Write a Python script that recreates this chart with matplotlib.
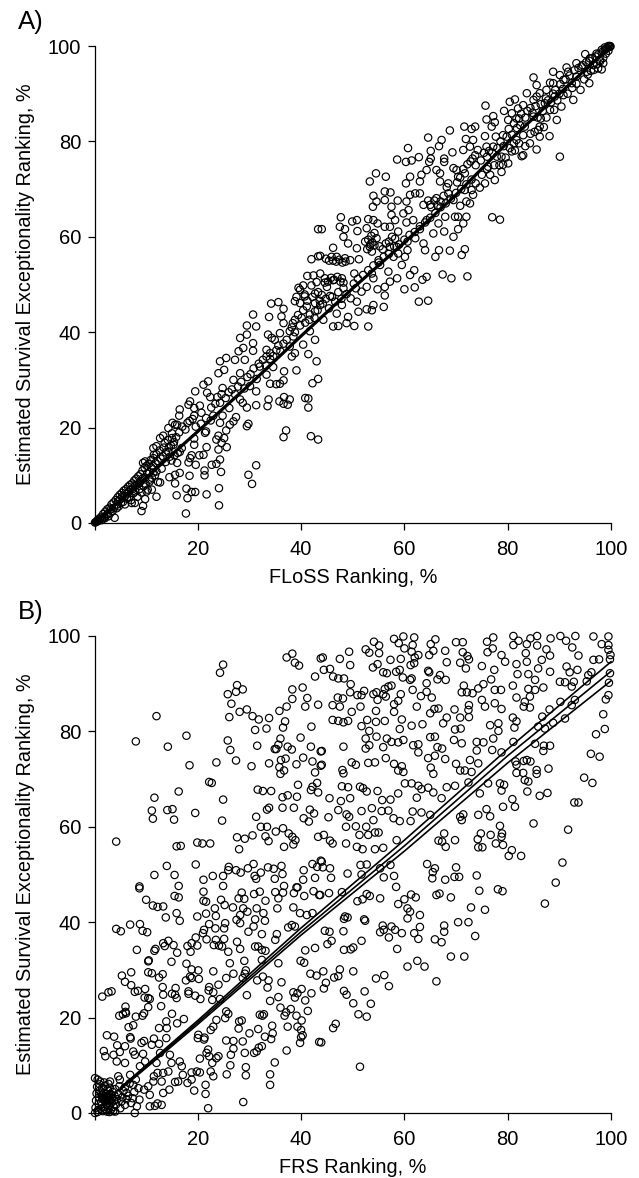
import numpy as np
import matplotlib
matplotlib.use("Agg")
import matplotlib.pyplot as plt

plt.rcParams['font.family'] = ['Liberation Sans', 'DejaVu Sans']

TICKS = [0, 20, 40, 60, 80, 100]
TICK_LABELS_Y = ['0', '20', '40', '60', '80', '100']
TICK_LABELS_X = ['', '20', '40', '60', '80', '100']
YLABEL = 'Estimated Survival Exceptionality Ranking, %'

# Panel A: ranks, (FLoSS, survival)
floss_low = [
(17.7,2),(24.1,3.7),(18,5.2),(15.9,5.8),(18.8,6.5),(19.5,6.5),(21.7,6),(17.8,7.2),(24.1,7.3),(30.5,8.2),
(29.8,10.1),(31.3,12.1),(24.5,10.7),(21.3,10),(21.3,11),(18.4,9.9),(15.6,8.3),(14.5,9.6),(15.6,10.1),(16.5,10.5),
(22.7,12.2),(23.6,12.4),(24.3,13.3),(19.6,12.2),(18.2,12.7),(18.5,13.6),(20.3,14.2),(21.1,14.3),(18.8,14.2),(21.7,15.9),
(24,15.4),(25.6,15.9),(24.6,16.8),(23.6,17.5),(25.1,17.8),(24,18.3),(21.4,18.9),(21.6,19.2),(19.3,17.7),(19.3,16.4),
(16.9,15.7),(16.1,14.7),(14.9,13.1),(16,12.6),(36.6,18),(37.1,19.4),(41.9,18.2),(43.3,17.5),(29.5,20.3),(29.8,20.8),
(27.4,22.2),(26.9,21.3),(26.2,20.6),(24.3,21),(25.5,19.4),(23,22.5),(24.8,22.5),(26.1,24.1),(22.5,21.5),(20.7,23.1),
(19.3,22.5),(19.3,24.1),(20.4,24.6),(18.2,24.8),(18.5,25.5),(16.5,23.8),(16.4,22.5),(15.1,21),(15.6,20.6),(14.3,19.9),
(12.7,17.8),(13.3,18.3),(12,16.1),(13.6,16.8),(15,17.8),(15.3,16.4),(14.3,15),(11.4,15.7),(11.5,14.3),(9.8,12.9),
(9.4,12.6),(12,10.8),(11.4,10.6),(10.7,8.7),(12,5.5),(9.8,5),(9.4,3.6),(9.1,2.5),(12.7,8.5),(11.1,7),
(10.1,6.6),(7.8,4.2),(7.2,4.2),(19.5,27.6),(21.1,29),(22,29.7),(21.8,27.3),(22.4,26.4),(24.3,25.2),(24,31.4),
(24.3,33.9),(25.1,32.1),(25.5,34.6),(24.8,28.3),(26.9,30),(28.2,31.4),(27.2,34.2),(27.9,36),(28.2,38.8),(29.1,34.2),
(28.8,36.7),(30.7,37.7),(30.7,36.1),(29.5,39.5),(29.5,41.4),(31.3,41.2),(30.7,43.7),(28.7,25.2),(29.5,24.2),(31.3,24.7),
(28.2,25.9),(31.3,27.6),(30.1,28.7),(31.4,30.2),(32,32.8),(33.7,25.9),(33.5,24.5),(35.8,25.5),(36.6,25),(37.4,24.8),
(36.7,26.4),(37.8,25.9),(34,29.2),(35.2,29.1),(35.9,29.2),(36.6,29.9),(36.7,31.8),(33.3,31.1),(34.6,32.7),(33.3,34.9),
(34,35.6),(33.3,36.3),(33.6,39.5),(34.3,38.8),(34.9,38.4),(33.8,43.2),(34.2,46),(35.6,46.3),(36.6,44.9),(36.2,43.3),
(36.6,41.9),(37.8,40.2),(35.9,39.8),(38.8,42.6),(38.5,39.1),(38.2,34.9),(39.1,32),(38.8,35.6),(40.4,37.4),(41.4,35.4),
(42.7,38.4),(41.7,40.2),(43,33.9),(42.2,29.3),(43.3,30.2),(40.8,26.2),(41.4,26.1),(41.4,24.2),(38.8,46.5),(39.8,46.1),
(41.1,45.4),(42.7,46.1),(39.8,48.9),(40.7,47.9),(42.7,44.4),(40.1,43),(41.7,43.7),(38.4,41.9),(43.3,61.6),(42,55.3),
(43.3,55.9),(41.2,51.8),(42.4,51.9),(39.5,49.3),(40.4,49.8),(39.1,47.4),(42,49.8),(43,50.5),(42.7,48.1),(40.7,47.5),
(43.3,48.4),
]

floss_high = [
(75.7,87.5),(68.8,82.3),(64.6,80.8),(67.2,80.3),(60.7,78.6),(66.7,79),(65.1,78),(58.6,76.2),(62.8,76.7),(61.4,76),
(60.3,75.7),(65.1,76.4),(64.8,75.7),(67.7,76.4),(69.3,77.7),(67.7,75.7),(71.9,80.5),(71.6,83.1),(73,82.6),(73.7,83.1),
(73.3,80.3),(75.9,84.6),(77.2,85.3),(75.6,81.1),(76.9,83.1),(77.7,81),(79.1,81.3),(77.5,84),(79.3,86.4),(80.4,88.3),
(81.4,88.8),(83.7,90.1),(80.8,85.9),(82,86.9),(80.1,84.5),(83,87.6),(85,93.4),(85.6,91.8),(88.8,94.6),(88.2,92.3),
(91.4,95.5),(95,98.3),(85.6,89.4),(86.2,90.1),(87.4,89),(90.1,93.9),(90.8,92.9),(91.7,94.6),(93.3,96.4),(94.3,95.7),
(95.9,97.4),(97.2,98.4),(98.2,99.2),(98.8,99.7),(99.8,100),(99.5,100),(99.1,99.5),(98.5,96.4),(98.2,95.1),(95.8,92.2),
(92.7,88.7),(90.4,87.3),(89.5,84.5),(90.1,76.8),(88.1,81.1),(86.2,81),(85.6,78.3),(83,77.1),(82.7,76.9),(84.3,79.6),
(85.9,82.4),(87.5,85),(88.2,86.6),(80.8,77.9),(81.4,78.1),(83,81.3),(81.7,80.3),(80.1,75.4),(78.8,73.6),(79.1,75.1),
(77.5,71.9),(76.6,73),(75.6,71.2),(74.6,70.3),(72,67.4),(73.3,68.8),(72.7,67),(71.7,69.8),(73,69.8),(69.5,67.7),
(70.8,66.5),(68.5,71.2),(66.9,71.6),(69.5,74.4),(66.9,73.3),(66.2,74),(64.3,74),(63.3,73),(63,71.6),(61.1,72.6),
(60.3,71.2),(56.4,72.6),(54.5,73.3),(53.3,71.6),(54,68.6),(56.2,69.5),(57.3,69.3),(56.2,67.7),(54.6,67.4),(53.9,66.3),
(58.7,67.6),(57.5,66.3),(60.4,67.4),(61.1,68.8),(62.1,69.1),(63,69.1),(60.8,65.6),(59.8,64.9),(63.7,66.7),(65,66.7),
(66.2,68.1),(68.5,69.1),(70.4,64.2),(72,64.2),(71.4,62.8),(69.8,64.2),(70.4,61.6),(69.5,60),(67.7,61.1),(65.6,60.7),
(66.6,62.8),(67.9,64.2),(77,64.1),(78.5,63.6),(63.7,58.6),(64,57.2),(66.7,57.2),(68.8,57.1),(66,55.8),(71.7,57.4),
(71.1,56.2),(67.4,52.1),(69.1,51.3),(72.2,51.7),(64.3,51.6),(63.5,51),(61.1,52),(61.9,53),(62,49.4),(60,49),
(62.8,46.4),(64.6,46.6),(58.6,51.3),(56.9,52.7),(57.2,50.6),(56.2,49.5),(54.8,49),(56.2,47.7),(56,45.3),(54,45.7),
(53.7,44.6),(52.7,44.8),(53,41.2),(50.3,41.3),(48.8,41.9),(47.2,41.3),(46.2,41.2),(51.1,44.3),(49.1,43.2),(47.9,45.7),
(46.9,43.9),(49.6,47.1),(50.8,46.4),(51.7,48.5),(52.7,49.5),(50.6,49.2),(50.3,52.3),(53.7,52.3),(54,51.3),(55.3,54.1),
(59.5,54.1),(60.1,55.8),(57.9,55.8),(60.6,57.2),(58.8,56.5),(55,55.1),(51.2,55.3),(49.5,55.1),(48.5,55.5),(46.9,55.8),
(45.9,55.8),(43.7,56),(46.2,57.7),(49.1,58.6),(50.8,57.6),(53.3,57.9),(53.7,56.9),(54.6,59.7),(57.2,57.9),(58.5,57.9),
(60.6,59),(62.1,59.7),(47.5,62.1),(47.7,64.1),(44,61.6),(49.9,63.2),(50.8,63.5),(50.9,61.2),(48.5,61.6),(48.2,60),
(52.7,61.8),(53,63.7),(54,63.5),(54.8,62.8),(56.2,62.1),(57.2,62.1),(58.8,61.1),(58.2,63.5),(57.5,64.6),(60.4,63),
(61.7,63.5),(63,61.6),(64.3,63.5),(43.7,52.3),(44.6,51.3),(46.2,50.9),(47.9,51.3),(45,49.5),(44,47.8),(45.6,47.6),
(43.7,45.7),(44.3,42.6),(71.7,73.3),(70.4,72.6),(73.7,77.1),(71.4,78.2),(72.7,78.9),(70.1,74),(75.9,78.9),(77.2,78.9),
(76.2,74.7),(77.9,76.8),(78.8,76.8),(85,85.2),(86.2,83.1),(83.3,83.1),(81.7,84.8),(85,88.7),(82.4,83.4),(89.1,89.4),
(90.8,89.7),(92.4,92.2),(93.3,93.6),(95.3,94.6),(96.6,96),(97.9,97.1),(88.8,92.2),(87.5,90.8),(97.5,95.3),
]

# tight runs of points along the line at both ends of panel A
floss_ends = [
(0.1,0.1),(0.3,0.2),(0.5,0.5),(0.7,0.4),(0.9,0.9),(1.1,0.7),(1.3,1.3),(1.5,1),(1.7,1.9),(1.9,1.2),
(2.1,2.4),(2.3,1.6),(2.5,2.9),(2.7,1.4),(2.9,3.2),(3.1,2.1),(3.3,3.9),(3.5,2.5),(3.7,4.3),(3.9,1.1),
(4.1,4.8),(4.3,3.1),(4.5,5.4),(4.7,3.5),(4.9,5.9),(5.1,4.2),(5.3,6.3),(5.5,4.4),(5.7,6.8),(5.9,3.9),
(6.1,7.1),(6.3,5.1),(6.5,7.6),(6.7,5.4),(6.9,8),(7.1,4.8),(7.3,8.3),(7.5,6.2),(7.7,8.9),(7.9,6.6),
(8.1,9.3),(8.3,5.5),(8.5,9.8),(8.7,7.1),(8.9,10.2),(9.1,6.4),(9.3,11),(9.5,7.7),(9.7,11.6),(9.9,8.2),
(10.1,12),(10.3,7),(10.5,12.4),(10.7,9.1),(10.9,13.2),(11.1,9.5),(11.4,13.6),(11.7,10),(12,14.4),(12.3,8.6),
(12.6,15.2),(13,11.4),(13.4,15.8),(13.8,12.8),(14.2,17.4),(14.6,13.9),(15,18.8),(15.5,14.2),(16,20.6),(16.5,14.9),
(90.2,92),(90.7,91),(91.2,93),(91.6,90),(92,93.8),(92.5,91.2),(92.9,94.9),(93.3,92.1),(93.7,95.4),(94.1,90.8),
(94.5,96),(94.8,93),(95.2,96.6),(95.5,94),(95.8,96.9),(96.1,94.8),(96.4,97.5),(96.7,95),(97,97.8),(97.3,96.2),
(97.6,98.3),(97.9,96.8),(98.2,98.7),(98.5,97.5),(98.8,99.2),(99,98.4),(99.3,99.6),(99.5,99),(99.7,99.8),(99.9,99.9),
]

# the crowded clumps of panel A, where rings overlap
floss_clumps = [
(1.4,0.6),(2,1),(2.6,1.9),(3.2,2.9),(3.8,3.2),(4.4,3.9),(4.6,4.6),(5,5),(5.4,5.6),(5.8,5.6),
(6.2,6.2),(6.6,6.5),(7,7),(7.4,7.1),(7.8,7.7),(8.2,8),(8.6,8.3),(9,8.8),(9.4,9.4),(9.8,9.5),
(10.2,10.4),(10.6,10.6),(11,11.6),(11.3,12),(11.8,12.6),(12.2,13),(12.8,13.5),(13.2,14),(13.8,14.8),(14.4,15.8),
(14.8,16.2),(15.4,17),(15.8,18),(16.4,19),(17,20.2),(17.6,19.6),(18,21),(18.4,21.4),(19,21.8),(19.6,20.2),
(20.6,20.8),(21.6,22),(22.6,24.2),(23.4,25),(23.8,26.4),(24.6,27),(25.4,26.2),(26,27.4),(26.6,28),(27.2,27),
(27.8,28.6),(28.4,29.6),(29,28.2),(29.6,30.6),(30.2,31.2),(30.8,32.4),(31.8,33.4),(32.6,34.2),(33.2,33),(34,34.4),
(34.6,35),(35.2,36.2),(35.6,37.2),(36,36),(36.6,37.6),(37.2,38.4),(37.8,37),(38.2,41),(38.8,40),(39.4,43.6),
(39.8,41.4),(40.4,44.6),(40.8,42),(41.2,46.6),(41.6,42.6),(42.2,47.4),(42.6,43),(43.2,44.6),(43.6,46.6),(44.2,46),
(44.8,47),(45.4,45),(46,47.4),(46.6,46.4),(47.2,48.4),(47.8,47),(48.2,49.2),(48.8,48),(44.6,50.4),(45.2,50.6),
(45.8,51.4),(46.4,51),(47,51.6),(47.6,50.6),(48.2,50.4),(44.8,55.4),(45.4,55),(46.2,55),(46.8,54.8),(47.4,55.2),
(48,54.6),(48.6,54.8),(52.8,57.4),(53.4,58.4),(53.8,58.8),(54.2,58.2),(52.4,59),(53,59.4),(53.6,60.2),(54.2,60.8),
(55.2,58),(55.8,57.4),(56.4,58.6),(57,59),(57.6,60),(58.2,59.6),(50.2,50.2),(51,51.2),(52,52),(53,53),
(54,54),(55,54.6),(56,55.8),(57,56.4),(58,58),(59,58.4),(60,59.4),(61,60.4),(62,61),(63,62.2),
(64,63),(65,64),(66,65),(67,66.2),(68,67),(69,68),(70,69.2),(71,70),(72,71),(73,72),
(64.6,67.6),(65.2,66.2),(65.8,67.6),(66.4,66.6),(67,67.4),(67.6,68.6),(68.2,70.4),(70.2,71.4),(70.8,72.4),(71.4,74.2),
(72.2,75.2),(72.8,75.8),(73.2,76.4),(73.8,75),(74.2,78.2),(74.8,76),(75.4,77.6),(76,76.8),(76.4,78),(77,77.6),
(78,78.6),(78.6,80),(79.2,79),(79.8,81),(80.2,82.6),(80.8,81.4),(81.2,83.8),(81.8,82.8),(82.2,84.8),(82.6,85.8),
(83.4,85),(83.8,86.4),(84.4,87),(84.8,86),(85.4,87.4),(85.8,85),(86.4,87.8),(86.8,86.4),(87.2,88),(87.8,88.6),
(88.4,88.2),(88.8,90),(89.2,90.8),(89.6,88.6),(90,90),(73.8,71.2),(75,73),(76,74.2),(77.4,75),(78.4,75),
(79.6,76.6),(80.4,78.6),(81.2,79.6),(82.2,79.6),(83.4,79),(84.4,81.6),(85.2,82),(86.4,84.8),(87,83),(89,86.6),
]

floss_line_x = [0, 10, 20, 30, 40, 50, 60, 70, 80, 90, 100]
floss_line_y = [0, 9.5, 19.2, 29, 39.2, 49.2, 58.8, 68.8, 79.8, 90, 100]

# Panel B: ranks, (FRS, survival)
frs_upper_left = [
(4.2,56.9),(8,77.9),(12,83.2),(14.2,76.8),(17.8,79.1),(18.4,72.9),(23.6,73.5),(24.3,92.3),(24.9,94),(25.8,87.8),
(27.4,88.3),(27.6,89.7),(28.7,88.8),(26.5,85.8),(26.1,83),(28.1,84.1),(29.5,84.6),(30.6,83.2),(31.8,82.5),(33.8,82.8),
(35.8,84.3),(37.2,85.2),(38.3,86.8),(38.3,88.8),(40.3,89.2),(41.2,87),(40.8,85.2),(37.2,95.5),(38.3,96.3),(38.8,94.4),
(39.6,93.8),(42.7,91.5),(43.8,95.3),(43.3,85.6),(36.9,82.1),(36.5,80.8),(33.3,80.6),(31.1,80.3),(42,81),(25.8,78.1),
(26.3,76.1),(27.4,73.9),(31.5,77),(30.4,72.7),(33.8,73.3),(34.9,76.3),(35.2,76.3),(35.6,77.2),(36,78.5),(37.4,76.8),
(38.2,76.2),(39.9,78.7),(41.9,76.8),(43.8,75.8),(36.1,74),(37,74.3),(39.1,73.1),(40.4,74.5),(42.2,73.7),(35.8,72.5),
(36,71.1),(36.7,71.8),(42.7,71.4),(43.8,72.8),(39.4,68.8),(43.1,69.2),(42.2,68.4),(41.9,67.7),(43.3,67.2),(31.6,67.8),
(32.6,67.5),(34.2,67.5),(36.4,66.2),(37.4,66.6),(39.2,66.3),(36.4,64),(38.6,64),(33.4,63.6),(33.8,64),(41.7,63.6),
(42.5,62.8),(40.5,61.8),(41.5,61.1),(31.3,62.1),(32.2,60),(33.4,60),(36.5,59.7),(35.1,59),(37.6,58.6),(38.3,57.9),
(38.9,57.2),(38.5,56.3),(36.7,55.8),(33.1,58),(33.7,57),(30.6,58.2),(29.1,57.5),(27.6,57.8),(28,55.3),(43.3,57.9),
(24.7,61.3),(24.9,65.7),(19.5,62.9),(22.2,69.4),(22.7,69.2),(16.3,67.4),(11.6,66.1),(11.1,63.4),(11.3,61.7),(14.1,63.5),
(15.1,63.7),(15.4,61.5),(15.9,55.9),(16.7,56),(19.9,56.7),(20.9,56.5),(22.4,56.5),(19.6,52.1),(14,51.8),(11.6,49.9),
(15.5,49.9),(16.3,47.6),(8.7,47.5),(21.1,48.9),(22.9,49.7),(24.9,49.7),(25.9,50.9),(26,51.6),(27.4,50.9),(28.3,50.4),
(29.7,51.3),(30.8,52.2),(31,49.7),(31.3,49.1),(32.2,50.4),(33.6,51.5),(34.7,51.2),(36.2,51.8),(36.4,50.1),(34.9,49.1),
(36.7,47.6),(40.5,50.9),(40.4,48.9),(42.7,49.3),(42.2,52.2),(43.1,51.6),(43.8,52.9),(39.1,47.3),(24.9,47.6),
]

frs_lower_left = [
(8.7,47.1),(10,44.7),(11.3,43.5),(12.2,43.2),(13.3,43.3),(13.8,41),(15.9,41.9),(16.5,40.3),(15.5,45.5),(16.3,45.2),
(21.1,46.4),(21.1,44.5),(21.6,44.3),(19.9,41.2),(21.6,41.8),(23.3,42.9),(23.5,41.3),(24.5,44.7),(25.2,43.6),(26.8,43.1),
(27.9,45),(28.5,46.2),(29,44.9),(29.6,42.2),(30.9,45.9),(32,46.4),(33.1,44.5),(35,46.3),(36.5,46.2),(35.6,45),
(35.4,42.9),(38.6,46.1),(39.3,47.3),(40.6,45.5),(42.4,46.5),(43.5,45.7),(38.5,43.1),(39.8,41.9),(41.1,41.5),(42.2,41.9),
(31.4,42.9),(32.7,41.9),(31.1,40.6),(33,40.3),(27.5,40.5),(28.2,41.5),(28.8,42.9),(28.2,39.8),(29.8,38),(30.8,39.1),
(32.4,37.5),(35.3,37.5),(35,36.3),(38.2,39.4),(37.5,38.9),(38.8,39.1),(4.2,38.6),(5.1,38.1),(6.9,39.5),(8.8,39.6),
(9.3,38.2),(10.2,37.9),(8.2,34.2),(11.6,34),(11.8,34.4),(10.4,31.8),(10.5,32),(13.6,35),(14.3,36.1),(15.3,35.2),
(16,33.6),(14.9,31.7),(13.3,35.6),(18,35),(18.8,35.6),(18.6,33.8),(19.6,36.8),(19.9,35.1),(21,37.7),(21.7,36.4),
(21.2,38.4),(22.2,39.6),(23.4,38.7),(25.3,39.8),(25.1,38.7),(23.5,36.3),(25.1,36.5),(24.1,35.1),(24.7,34.9),(23.1,35.2),
(25.9,33.8),(27.6,35.9),(28.2,34.4),(26.2,31.4),(29,31.9),(31.1,34.9),(31.7,34.9),(32.4,34.2),(33.1,34),(32.4,32.1),
(35.6,31.4),(40.8,34.1),(42.7,34.6),(39.9,31.9),(40.6,31.5),(17.8,31.3),(18.8,30.1),(20.1,29.9),(23,29.7),(10.4,29.5),
(11.1,29.3),(7.1,29.5),(5.3,28.8),(13.2,29.1),(12.5,28.4),(5.9,27.5),(7.1,26.8),(7.8,25.4),(8.4,25.6),(9.8,26),
(1.5,24.4),(2.7,25.3),(3.3,25.5),(13.2,26.4),(13.3,24.8),(10.4,24.1),(10.7,23.9),(9.7,24.2),(10.4,22.2),(12.9,22.4),
(6,22.3),(6,21.2),(4.8,20.4),(5.5,20.7),(6.1,20.9),(8,20.2),(9.6,20.9),(9.3,20.4),(6.6,18),(7.5,18.4),
(2.4,16.3),(3.8,16),(6.9,15.9),(7,15.6),(4.4,14.2),(5.9,14),(1.8,13),(2.1,11.9),(3.7,12.2),(4.3,10.8),
(4.9,12.8),(5.9,10.5),(7.5,12.9),(9.1,14.7),(9.6,15.1),(7.8,12.2),(9.4,12.4),(11.5,15.6),(11.1,14.3),(12.5,14.5),
(13.9,15.7),(12.7,12.6),(14.6,12.2),(12.5,17.8),(14,17.8),(13.9,19.2),(16,18.8),(17.3,19.7),(15,20.8),(15.7,26.2),
(15.6,24.8),(15,25),(15.9,24.1),(18.2,25.5),(18.2,25),(19.5,24.6),(20.5,23.9),(18.5,28.6),(18.8,28.3),(17.7,27.8),
(20.2,28.1),(22.2,26.4),(22.1,25.7),(23,25.3),(22.8,23.7),(24.3,23.9),(24,26.9),(25.5,28.3),(26.9,29.2),(29.3,29.9),
(29.1,29.2),(28.7,28.3),(29.5,24.7),(31.5,27.8),(32.6,28.6),(33.7,27.8),(33.5,26.3),(36.2,27.4),(34,23.5),(35.6,24.3),
(38.5,25.3),(40.1,26),(39.3,25.1),(38.8,24.2),(42,25.1),(40.8,23.6),(41.8,29.2),(43,28.8),(41.3,21.4),(36,22.1),
(36.8,20.4),(37.1,21.1),(38,21.8),(39.1,20.4),(37.4,18.1),(40.1,19.4),(39.3,18.1),(40,17.4),(40.3,16.3),(40,15.9),
(39.8,14.7),(43.5,14.9),(37.2,13.1),(32,20.6),(32.8,20.7),(32.5,20.4),(34.4,18.3),(34.5,16.7),(34.2,15.5),(33,16),
(31.7,17.6),(25.9,20.8),(25.5,21.3),(28.5,19.4),(28,19.2),(27.9,17.7),(30,16.7),(25.3,19.9),(23.6,19.5),(22.5,17.4),
(23,18.1),(20.1,16.4),(20,15.7),(21.3,15.8),(21.2,15.4),(25.5,15.2),(26.9,15.1),(26.9,13.5),(28.7,15),(26.4,12.2),
(29.1,12.6),(30.9,12.6),(31.4,12.9),(32.4,14),(31.8,13.7),(26.3,10),(29.3,9.6),(29.3,7.9),(34.9,10.6),(34,8.1),
(34,5.9),(28.8,2.3),(22,1),(25.6,8.1),(22,13.3),(21.7,12.6),(20.4,11.4),(22.2,11.9),(24,11.9),(23.6,11.5),
(22.8,10.5),(22.5,8.7),(23,7.7),(21.5,5.9),(21.5,4),(19.3,4.7),(20.4,8.5),(19.8,8.7),(18.8,8.5),(18.8,7),
(18,6.3),(16.5,10.8),(16.9,9.8),(17.1,8),(16.2,6.6),(15.6,6.5),(14.5,4.9),(13.3,4.2),(14.9,10.5),(14.3,8.7),
(13.3,8.4),(12.2,8.4),(11.5,7.7),(11.4,6.6),(13,6.6),(13,1.7),(12.2,2),(10.7,1.4),(11.7,1.5),(7.8,0),
(8.7,2.8),(8.2,1.4),(10.7,3.8),(9.6,4.9),(10.4,5.6),(7.5,5.9),(8.5,5.2),(6.9,8),(8.8,9.8),(9.8,10.8),
(12,10.5),(5.9,1.7),(6.2,4.2),(4.9,7),(4.6,7.7),(3,6.6),(0.1,7.3),(0.6,7),(1.1,6.6),(2.4,0.3),
(4,0.3),(0.1,0),
]

frs_origin = [
(0.2,1.1),(0.3,2.6),(0.4,4.1),(0.5,5.5),(0.7,0.6),(0.8,1.9),(0.9,3.3),(1,4.7),(1.2,0.9),(1.3,2.3),
(1.4,3.7),(1.5,5.2),(1.7,1.2),(1.8,2.8),(1.9,4.2),(2,5.7),(2.2,0.8),(2.3,2),(2.4,3.4),(2.5,4.9),
(2.7,1.5),(2.8,2.7),(2.9,3.9),(3,5.3),(3.2,0.7),(3.3,2.2),(3.4,3.1),(3.5,4.4),(3.7,1.3),(3.8,2.6),
(3.9,3.6),(4,5),(4.2,1.8),(4.4,2.9),(4.6,4),(4.8,5.6),(5,1),(5.2,2.4),(5.4,3.3),(5.6,4.6),
(5.9,5.4),(6.2,2.9),(6.5,3.6),(6.8,6.2),(7.1,2.1),(7.4,3.1),(7.7,4.4),(8,7),(0.6,0.2),(1.6,0.4),
(2.9,0.2),(3.6,0.4),(1,6),(1.9,6.4),(2.7,6.1),(1.6,2.9),(1.9,3.1),(2.1,3.6),(2.2,2.5),(2.6,3.1),
(2.4,2.8),(1.8,3.5),(2.1,2.9),(3,2.6),(2.7,3.7),(3.1,3.4),(1.5,3.3),(2.3,4),(3.3,3.8),(1.3,4.1),
]

frs_upper_right = [
(44.2,95.5),(47.5,95.2),(49.3,96.7),(49.5,93.9),(44.4,92.9),(45.6,93.1),(46.2,91.5),(47.2,91.1),(48.3,91.1),(49.6,89.9),
(49.5,88.2),(50.9,87.6),(51.7,87.6),(52.2,88.5),(54,87.8),(54.6,88.2),(54.8,86.6),(55.9,87.8),(56.4,87.3),(56.2,88.9),
(56.9,89.4),(57.5,89.6),(59.3,87.8),(58.8,86.4),(58,85.7),(58,84.1),(62.4,85.2),(61.6,88.7),(63.2,87.4),(64.3,90.1),
(64.3,88.3),(65.3,87.1),(66.4,90.9),(66.9,91.8),(68,90.8),(64.6,92.7),(64.8,92.4),(61.1,90.8),(61.4,91.1),(59.7,91.3),
(59.1,92.9),(58.4,92.5),(55.9,92.4),(56.6,92.2),(53.9,93.4),(54.8,94.1),(57.3,95),(59.3,95.2),(61.2,93.9),(61.9,94.3),
(61.4,96.7),(62.7,96),(62,95.5),(55.1,96.4),(55.1,98),(54.1,98.8),(52.5,97.2),(53.2,96.5),(58,99.4),(58.9,98.5),
(59.8,99.9),(60,97.4),(61.9,99.7),(61.6,98.1),(66,99.3),(65.1,98.3),(65.6,96.9),(64.8,96),(67.9,96.9),(68.2,94.5),
(70,98.7),(71.3,98.7),(71.3,96.6),(72.2,95.8),(72.5,95.1),(70.8,94.4),(71.9,93.2),(75,93.7),(77.4,92.9),(77.2,99.7),
(76,98.8),(77.1,97.4),(76.1,96.6),(78.8,96),(79.5,94.6),(81.1,100),(81.1,98.1),(82.1,99),(83.7,98.3),(84.4,99.5),
(85.7,100),(85.7,98),(87.5,97.2),(88.3,99.5),(90.2,100),(91.3,99),(92.5,97.6),(93.1,100),(96.6,99.9),(99.5,99.9),
(98.2,98.3),(99.5,98.1),(99.5,97.1),(99.9,96),(99.8,95.1),(93.7,95.9),(88.2,95.9),(86.6,95),(83.5,96.4),(83.7,94.6),
(81.7,94.1),(81.9,92),(84,92),(85.3,90.8),(86.9,89.2),(85.9,93.2),(88.2,92.5),(91.4,93.6),(92,92.4),(93.5,92.9),
(90.1,90.4),(91.1,90.3),(92.8,90.4),(92.4,89.4),(95.6,91.8),(96.2,92.4),(95.3,90.5),(96.6,95),(97.7,95.1),(99.8,92.2),
(99.6,90.2),(99.5,87.6),(99,86.7),(98.5,83.6),(98.8,80.5),(97.1,79.4),(96.1,75.3),(97.8,74.7),(94.8,70.3),(96.4,69.2),
(92.9,65.1),(93.7,65.1),(91.7,59.4),(90.6,52.5),(89.3,48.3),(87.2,43.9),(85,60.7),(86.2,66.5),(87.7,67.1),(87.9,72.2),
(88.2,77),(86.9,75.9),(87,77),(85.3,77.4),(85.6,71.9),(85.6,71.1),(84,69.5),(83.8,67.4),(83.3,69.8),(84.4,73.7),
(83.7,74),(83.1,73.8),(83,71.3),(81.7,71.3),(81.5,73.7),(81.7,73),(80.9,65.8),(81.4,64.2),(79.1,64.2),(79.3,68.8),
(78.5,69.1),(78.8,67.6),(75.9,63.7),(76.6,62.2),(74.3,62.5),(71.4,62.6),(70.8,62.1),(71.1,61.4),(76.2,69.1),(74.6,67),
(69.8,68.6),(68.2,68.3),(67.2,66),(78.5,60.2),(74.8,58.6),(76.7,58.3),(78.8,57.9),(78.9,58.6),(74.2,57.4),(74.3,55.7),
(75.1,55.7),(77.7,56.5),(79.1,56.2),(80.8,55.1),(80.2,53.9),(82.6,53.9),(69.8,57.2),(67.7,58.6),(66.6,57.1),(67.3,56.9),
(68,55.8),(64.4,52.2),(65.9,51.3),(65.5,50.5),(65.4,49.2),(67.9,48.9),(70,51.5),(69.7,49.5),(70.6,49.5),(74,49.8),
(74.5,46.6),(78.1,46.9),(79,46.5),(69,45.2),(66.2,45.7),(66.8,46),(72.9,43.1),(75.6,42.6),(63,41.5),(62.2,45.2),
(61.3,45.8),(60,44.8),(58.8,43.8),(60.6,42.9),(61.1,42.2),(55.3,45),(58.4,47.4),(53.3,45.5),(52.7,45.9),(51.9,44.8),
(50.9,44.4),(56,49.4),(58,49.7),(57.3,52),(55.3,51.3),(52.7,52.1),(51.5,52),(51.7,50),(49,50.2),(47.9,46.3),
(45.6,51.3),(45.8,49.3),(44,52.7),(44.2,51.5),(45.4,46.1),(43.7,45.7),(48.5,41.2),(52.2,40.6),(58.5,57.2),(55.9,55.6),
(54.3,55.3),(51.9,55.3),(50.8,55.8),(48.7,56.5),(46.1,56.5),(45.6,57.1),(44.4,58.3),(51.3,58.3),(53,58.3),(54.3,58.8),
(55,58.8),(52.6,60),(54,61.4),(50.6,60.1),(48.7,60),(51.7,63.3),(53.7,63.9),(49.5,66),(49.3,62.1),(48.8,62.6),
(45.5,66),(47.7,65.4),(47.2,63.5),(45.3,62),(55.7,65.6),(57.3,65.7),(54.8,67.5),(58.8,67),(62.4,66.1),(60.1,69.1),
(61.4,69.1),(62.7,68.6),(63.3,67.9),(64.6,68.2),(65.6,67.2),(47.9,68.5),(49.1,68.3),(51.4,68.4),(52,68.1),(52.7,67.4),
(55.6,63.3),(56.9,63.4),(57.9,61.8),(59.1,61.2),(61.2,61.2),(61.6,63.2),(63.3,63),(65,62.5),(48,71.9),(48.2,71.2),
(49.8,73.5),(50.6,73),(53,73.4),(54.3,73.5),(56.4,74.4),(58,73.2),(58.8,71.8),(59.8,71.5),(59.5,72.7),(65.6,71.1),
(65.1,72.4),(64.6,74.4),(65.9,74.9),(67.9,74.2),(70,73.2),(70.8,71.8),(71.7,71.8),(73,71.5),(72.7,74),(74.3,73.3),
(72.4,69.3),(44,75.9),(44,73),(48.2,76.8),(52.5,76.4),(53.2,77.1),(52.5,78.5),(54.6,78.9),(55.9,76.7),(56.6,78.5),
(57.5,77.8),(58.8,77.7),(59.8,78.2),(61.7,77.1),(62.7,77.3),(62.7,75.6),(65,78.8),(65.9,78.9),(66.4,76.7),(67.3,76.4),
(69.6,78.2),(69.8,80.4),(70.9,80.6),(71.1,77.5),(74,77.8),(75.3,77.7),(74,76),(77,76.1),(77.2,78.5),(78.2,81.7),
(78.2,80.1),(76.6,81.3),(81,82.9),(81.7,82.1),(81.3,80.8),(81.1,77.8),(78.8,75.6),(51.7,81.1),(53.2,80.1),(52.8,82.4),
(54.5,82),(56.2,82.2),(59.1,80.5),(59.5,82.5),(61.4,81.2),(63.5,81.5),(67.5,81.7),(68.2,82.9),(70.8,82.9),(72.5,83),
(69.7,84.6),(72.5,85.5),(72.4,84.5),(75.6,85.2),(78.8,84.7),(77.5,85.9),(65,83.8),(65.8,84.7),(66.6,84.8),(46.1,82.4),
(47.2,82.2),(48.2,81.9),(49.1,82.2),(47.5,85.2),(46.1,85.5),(47.1,87.1),(48.1,86.9),(51.5,85.2),(49.8,84.1),(54.5,84.3),
(71.5,89.6),(71.1,88.2),(72.1,88.2),(73.2,88),(74.3,89),(75.3,89.9),(76.8,90.9),(77.5,88.7),(78.7,88.7),(75,86.6),
(81.7,87.1),(81,89.6),(83.3,86.2),(84.3,87.3),(85.3,88.7),(84,88.9),(84.3,85),(83.1,85.2),(86.7,83.1),(88.1,84.6),
(90.2,86.2),(93,86.6),(92.4,85.5),(91.1,82.7),(88.8,81.8),(87.2,80.6),(85.9,81),
]

frs_lower_right = [
(51.4,9.7),(43.9,14.8),(46.7,18.7),(46.2,17.8),(51.1,20.7),(52.7,20.2),(50.1,23),(53.5,22.9),(48.3,25.6),(48.8,24.8),
(52.3,25.5),(57,26.6),(54.5,28.2),(56.1,28.9),(50.1,29.7),(47.5,30.1),(47.2,28.7),(46.4,28.4),(44.3,29.7),(44.8,27.3),
(44.4,26.1),(60.6,30.7),(62.5,31.9),(63.9,30.7),(66.2,27.6),(69,32.8),(71.6,32.8),(58.6,34.4),(51.7,36.1),(50.1,34.7),
(49.6,34.3),(48.3,34.2),(45.9,36.1),(45.1,35.4),(48.2,38.1),(45.5,38),(44.6,38.2),(52.4,40.3),(48.3,40.7),(49,41),
(55.3,37.9),(55.8,39.3),(56,38.4),(57,36.8),(57.5,39.1),(58.2,38.4),(59.5,37.7),(60.6,40.8),(61.9,37.7),(62.7,36.5),
(63,39),(65.9,36.4),(67.2,35.8),(67.7,38),(67.7,39.3),(70.4,40),(72.4,40),(73.7,37.1),
]

frs_line_x = [5, 20, 40, 60, 80, 100]
frs_upper_y = [5.3, 19.4, 38.8, 57.2, 76.3, 94.6]
frs_mid_y = [5.1, 19, 38, 56, 74.9, 92.6]
frs_lower_y = [4.9, 18.6, 37.3, 54.9, 73.4, 90.6]


def style_axes(ax, xlabel_text, panel_text):
    for side in ['top', 'right']:
        ax.spines[side].set_visible(False)
    for side in ['left', 'bottom']:
        ax.spines[side].set_linewidth(0.9)
    ax.set_xlim(0, 100)
    ax.set_ylim(0, 100)
    ax.set_xticks(TICKS)
    ax.set_xticklabels(TICK_LABELS_X)
    ax.set_yticks(TICKS)
    ax.set_yticklabels(TICK_LABELS_Y)
    ax.tick_params(axis='y', length=5, width=0.9, labelsize=14.5, pad=4.5)
    ax.tick_params(axis='x', length=5, width=0.9, labelsize=14.5, pad=7)
    ax.set_xlabel(xlabel_text, fontsize=14.3, labelpad=7)
    ax.set_ylabel(YLABEL, fontsize=14.3, va='center')
    ax.yaxis.set_label_coords(-0.134, 0.5)
    ax.text(-0.148, 1.05, panel_text, transform=ax.transAxes, fontsize=18.5, ha='left', va='center')


def draw_points(ax, points):
    pts = np.array(points)
    ax.scatter(pts[:, 0], pts[:, 1], s=28, facecolors='none', edgecolors='black',
               linewidths=0.85, clip_on=False, zorder=3)


W, H = 639, 1178
fig = plt.figure(figsize=(W / 100, H / 100), dpi=100)
ax_a = fig.add_axes([94.5 / W, 1 - 523 / H, 516.5 / W, 477 / H])
ax_b = fig.add_axes([94.5 / W, 1 - 1113 / H, 516.5 / W, 477 / H])

# A)
draw_points(ax_a, floss_low + floss_high + floss_ends + floss_clumps)
ax_a.plot(floss_line_x, floss_line_y, color='black', lw=2.3, zorder=4, clip_on=False)
style_axes(ax_a, 'FLoSS Ranking, %', 'A)')

# B)
draw_points(ax_b, frs_upper_left + frs_lower_left + frs_origin + frs_upper_right + frs_lower_right)
for line_y in [frs_upper_y, frs_mid_y, frs_lower_y]:
    ax_b.plot(frs_line_x, line_y, color='black', lw=1.2, zorder=4, clip_on=False)
style_axes(ax_b, 'FRS Ranking, %', 'B)')

fig.savefig('out.png', dpi=100)
